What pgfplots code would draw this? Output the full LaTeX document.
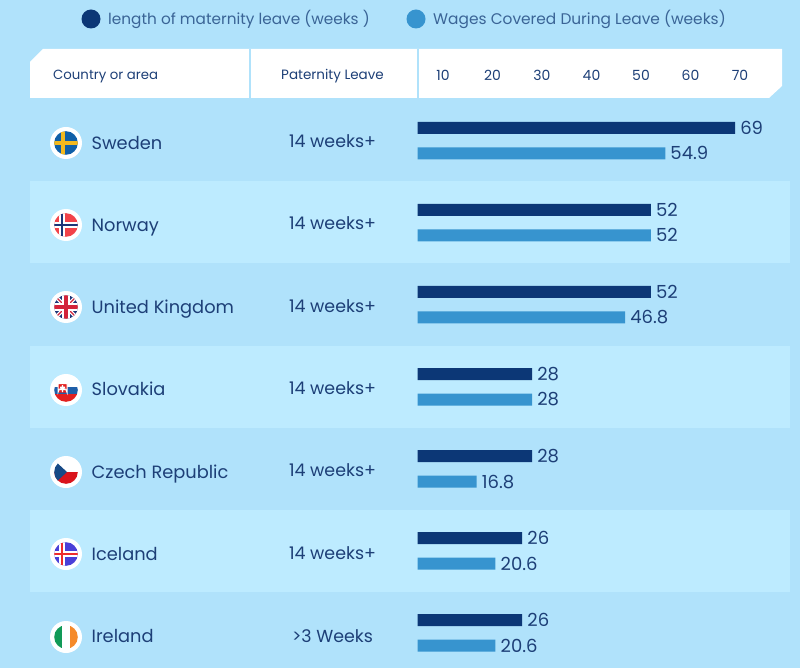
\documentclass[border=0pt]{standalone}
\usepackage{pgfplots}
\pgfplotsset{compat=1.18}
\usepackage{pgfplotstable}
\usepackage{fontspec}
\setmainfont{Poppins}
\definecolor{bgc}{HTML}{B0E2FB}
\definecolor{bandc}{HTML}{BDEBFF}
\definecolor{darkbar}{HTML}{0C3776}
\definecolor{lightbar}{HTML}{3794CF}
\definecolor{txt}{HTML}{1D3F77}
\definecolor{legtxt}{HTML}{3A6496}
\definecolor{fblue}{HTML}{0F5FA8}
\definecolor{fyellow}{HTML}{F2B81E}
\definecolor{fred}{HTML}{F2434A}
\definecolor{fnavy}{HTML}{1C3578}
\definecolor{ukred}{HTML}{D3233A}
\definecolor{skblue}{HTML}{1F5FA8}
\definecolor{skred}{HTML}{E3201F}
\definecolor{czred}{HTML}{D9141C}
\definecolor{czblue}{HTML}{174A86}
\definecolor{isblue}{HTML}{4A3FD8}
\definecolor{isred}{HTML}{EE2B2E}
\definecolor{iegreen}{HTML}{129A57}
\definecolor{ieorange}{HTML}{F58A2A}
\newcommand{\fs}[1]{\fontsize{#1}{#1}\selectfont}
\newcommand{\flag}[2]{%
  \fill[white] (66,#1) circle (16);
  \begin{scope}[shift={(66,#1)}]
    \clip (0,0) circle (11.8);
    #2
  \end{scope}}
\pgfplotstableread{
y maternity wages
0 69 54.9
1 52 52
2 52 46.8
3 28 28
4 28 16.8
5 26 20.6
6 26 20.6
}\leavetable
\begin{document}
\begin{tikzpicture}
\useasboundingbox (0,0) rectangle (800pt,-668pt);
\begin{scope}[x=1pt,y=-1pt]
  \fill[bgc] (0,0) rectangle (800,668);
  \foreach \a/\b in {181/263,346/428,510/592}{\fill[bandc] (30,\a) rectangle (790,\b);}
  \fill[white] (43,49) -- (782,49) -- (782,86) -- (769,98) -- (30,98) -- (30,62) -- cycle;
  \draw[bgc,line width=2pt] (249.5,49) -- (249.5,98) (418,49) -- (418,98);
  % legend
  \fill[darkbar] (91,19) circle (9.5);
  \fill[lightbar] (416,19) circle (9.5);
  \node[anchor=base west,inner sep=0,text=legtxt] at (108,24.5) {\fs{15.3}length of maternity leave (weeks )};
  \node[anchor=base west,inner sep=0,text=legtxt] at (433,24.5) {\fs{15.4}Wages Covered During Leave (weeks)};
  \node[anchor=base west,inner sep=0,text=txt] at (53,80) {\fs{13.3}Country or area};
  \node[anchor=base,inner sep=0,text=txt] at (332.5,80) {\fs{13.5}Paternity Leave};
  \foreach \yy/\t in {148/14 weeks+,230/14 weeks+,312/14 weeks+,394/14 weeks+,476/14 weeks+,559/14 weeks+,642/>3 Weeks}{
    \node[anchor=base,inner sep=0,text=txt] at (332.5,\yy) {\fs{17.4}\t};}
  \flag{143}{\fill[fblue] (-12,-12) rectangle (12,12);
    \fill[fyellow] (-12,-1.6) rectangle (12,1.6); \fill[fyellow] (-4.6,-12) rectangle (-1.4,12);}
  \flag{225}{\fill[fred] (-12,-12) rectangle (12,12);
    \fill[white] (-12,-2.6) rectangle (12,2.6); \fill[white] (-6.6,-12) rectangle (-1.4,12);
    \fill[fnavy] (-12,-1.3) rectangle (12,1.3); \fill[fnavy] (-5.3,-12) rectangle (-2.7,12);}
  \flag{307}{\fill[fnavy] (-12,-12) rectangle (12,12);
    \draw[white,line width=3.6pt] (-12,-12) -- (12,12) (-12,12) -- (12,-12);
    \draw[ukred,line width=1.4pt] (-12,-12) -- (12,12) (-12,12) -- (12,-12);
    \fill[white] (-12,-4) rectangle (12,4); \fill[white] (-4,-12) rectangle (4,12);
    \fill[ukred] (-12,-2.4) rectangle (12,2.4); \fill[ukred] (-2.4,-12) rectangle (2.4,12);}
  \flag{390}{\fill[white] (-12,-12) rectangle (12,12);
    \fill[skblue] (-12,-3.5) rectangle (12,4); \fill[skred] (-12,4) rectangle (12,12);
    \fill[skred] (-8,-6.5) rectangle (1,2.5) arc (0:-180:4.5 and 4.5) -- cycle;
    \draw[white,line width=1pt] (-8,-6.5) -- (1,-6.5) -- (1,2.5) arc (0:-180:4.5) -- cycle;
    \fill[white] (-4.2,-5) rectangle (-2.8,2) (-6,-3.4) rectangle (-1,-2.2) (-6,-1) rectangle (-1,0.2);}
  \flag{472}{\fill[white] (-12,-12) rectangle (12,12);
    \fill[czred] (-12,0) rectangle (12,12);
    \fill[czblue] (-12,-12) -- (1,0) -- (-12,12) -- cycle;}
  \flag{554}{\fill[isblue] (-12,-12) rectangle (12,12);
    \fill[white] (-12,-3) rectangle (12,3); \fill[white] (-7,-12) rectangle (-1,12);
    \fill[isred] (-12,-1.4) rectangle (12,1.4); \fill[isred] (-5.4,-12) rectangle (-2.6,12);}
  \flag{637}{\fill[white] (-12,-12) rectangle (12,12);
    \fill[iegreen] (-12,-12) rectangle (-4.4,12);
    \fill[ieorange] (4.4,-12) rectangle (12,12);}
\end{scope}
\begin{axis}[
  at={(417.5pt,-668pt)},anchor=south west,
  scale only axis,width=364.5pt,height=570pt,
  xbar,
  y dir=reverse,
  xmin=4.848,xmax=78.48,
  ymin=-0.5178,ymax=6.4266,
  bar width=12pt,
  axis line style={draw=none},
  major tick length=0pt,
  xtick={10,20,...,70},
  xticklabel pos=top,
  xticklabel style={font=\fs{14},text=txt,anchor=base,yshift=18pt},
  ytick={0,1,2,3,4,5,6},
  yticklabels={Sweden,Norway,United Kingdom,Slovakia,Czech Republic,Iceland,Ireland},
  yticklabel style={font=\fs{17.8},text=txt,anchor=base west,inner sep=0pt,xshift=-326pt,yshift=-9.2pt},
  /pgf/number format/assume math mode=true,
  nodes near coords,
  nodes near coords style={font=\fs{18},text=txt,anchor=west,inner sep=0pt,xshift=5pt},
]
\addplot[fill=darkbar,draw=none,bar shift=12.75pt]
  table[x=maternity,y=y]{\leavetable};
\addplot[fill=lightbar,draw=none,bar shift=-12.75pt]
  table[x=wages,y=y]{\leavetable};
\end{axis}
\end{tikzpicture}
\end{document}
